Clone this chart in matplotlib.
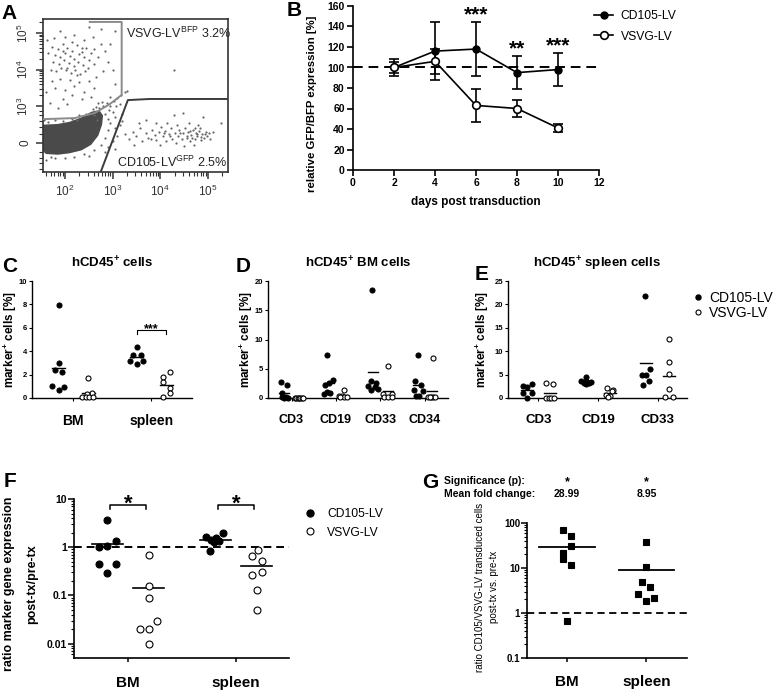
import matplotlib.pyplot as plt
from matplotlib.lines import Line2D
import numpy as np

plt.rcParams['font.family'] = ['Liberation Sans', 'DejaVu Sans']
plt.rcParams['mathtext.fontset'] = 'custom'
plt.rcParams['mathtext.rm'] = 'Liberation Sans'
plt.rcParams['mathtext.bf'] = 'Liberation Sans:bold'
plt.rcParams['mathtext.it'] = 'Liberation Sans:italic'

## ---------------- DATA ----------------
# A: flow cytometry events, axes in decades (2 = 0 on the y axis, 3 = 10^3 ...)
bfp_events = [(1.72,4.62),(1.85,4.55),(1.95,4.70),(2.05,4.60),(2.15,4.52),(2.25,4.66),(2.35,4.48),
              (1.80,4.40),(1.90,4.35),(2.00,4.45),(2.10,4.38),(2.20,4.30),(2.30,4.42),(2.40,4.34),
              (2.50,4.25),(1.75,4.20),(1.88,4.15),(1.98,4.25),(2.08,4.18),(2.18,4.10),(2.28,4.22),
              (2.38,4.12),(2.48,4.05),(1.70,4.00),(1.82,3.95),(1.92,4.05),(2.02,3.98),(2.12,3.90),
              (2.22,4.00),(2.32,3.88),(2.42,3.95),(2.60,4.15),(2.55,4.45),(2.45,4.60),(2.62,4.55),
              (2.70,4.35),(1.65,4.45),(1.62,4.80),(1.78,4.85),(2.00,4.90),(2.20,4.95),(2.40,4.80),
              (2.58,4.88),(2.75,4.70),(2.85,4.50),(2.90,4.20),(2.80,3.95),(2.65,3.80),(2.50,3.70),
              (2.30,3.65),(2.10,3.72),(1.90,3.75),(1.72,3.70),(1.80,3.50),(2.00,3.45),(2.20,3.55),
              (2.40,3.40),(2.60,3.50),(2.15,3.30),(1.95,3.20),(2.35,3.20),(2.55,3.25),(1.68,3.10),
              (1.85,2.95),(2.05,3.05),(2.70,3.10),(2.95,3.25),(3.05,3.60),(3.00,4.00),(2.95,4.70),
              (3.05,5.05),(2.75,5.10),(1.90,5.05),(2.50,5.15),(1.60,3.40),(2.25,3.85),(2.05,4.05),
              (1.95,4.50),(2.15,4.75),(2.35,4.58),(4.29,3.99)]
gfp_events = [(3.25,2.25),(3.35,2.10),(3.42,2.30),(3.50,2.18),(3.58,2.40),(3.62,2.05),(3.70,2.28),
              (3.75,2.15),(3.82,2.35),(3.88,2.22),(3.92,2.08),(3.98,2.30),(4.02,2.45),(4.05,2.18),
              (4.10,2.32),(4.12,2.05),(4.18,2.25),(4.22,2.40),(4.25,2.12),(4.30,2.28),(4.32,2.00),
              (4.38,2.20),(4.40,2.35),(4.45,2.10),(4.48,2.26),(4.52,2.42),(4.55,2.15),(4.58,2.30),
              (4.62,2.05),(4.65,2.22),(4.68,2.36),(4.72,2.12),(4.75,2.28),(4.78,2.18),(4.82,2.32),
              (4.85,2.08),(4.88,2.24),(4.92,2.14),(4.95,2.30),(4.98,2.20),(5.02,2.26),(5.05,2.12),
              (4.35,2.50),(4.60,2.55),(4.80,2.48),(4.15,2.55),(3.90,2.55),(3.55,2.55),(4.47,2.82),
              (4.90,2.70),(5.27,2.55),(4.28,2.75),(3.70,2.62),(4.00,1.95),(4.50,1.92),(4.70,1.95),
              (3.45,1.95),(4.20,2.18),(4.42,2.28),(4.56,2.20),(4.66,2.14),(4.76,2.24),(4.86,2.16),
              (4.94,2.24),(4.08,2.26),(3.80,2.12),(4.62,2.34),(4.72,2.40),(4.84,2.40),(5.10,2.30)]
neg_events = [(1.60,1.55),(1.80,1.58),(2.00,1.60),(2.20,1.62),(2.40,1.70),(2.60,1.80),(2.75,1.95),
              (2.85,2.15),(2.90,2.35),(2.95,2.55),(3.05,2.40),(3.10,2.20),(3.00,2.05),(2.90,1.90),
              (1.65,2.58),(1.80,2.62),(1.95,2.60),(2.15,2.66),(2.30,2.75),(2.45,2.80),(2.58,2.92),
              (1.70,1.62),(2.50,1.65),(3.15,2.50),(3.20,2.80),(3.05,1.85),(2.85,1.75),(1.56,2.62),
              (2.25,2.62),(2.68,2.62),(2.72,2.95),(2.80,3.02),(2.88,3.10),(2.95,3.00),(3.02,3.15),
              (3.10,3.22),(3.18,3.30),(3.25,3.38),(2.85,2.80),(2.92,2.90),(3.00,2.85),(3.08,3.00),
              (2.65,2.98),(2.78,3.12),(3.15,3.05),(3.30,3.42),(2.60,2.75),(2.90,2.65),(3.05,2.70),
              (3.20,2.60)]
neg_core = [(1.54,1.78),(1.60,1.70),(1.85,1.68),(2.10,1.72),(2.35,1.80),(2.55,1.95),(2.70,2.20),
            (2.78,2.50),(2.80,2.75),(2.72,2.90),(2.55,2.85),(2.35,2.70),(2.10,2.58),(1.85,2.52),
            (1.54,2.50)]
gate_bfp = [(1.54,2.65),(2.21,2.68),(2.63,2.82),(2.94,3.06),(3.19,3.31),(3.19,5.30),(2.52,5.30)]
gate_gfp = [(2.75,1.21),(3.32,3.17),(3.78,3.20),(5.42,3.20)]

# B: relative expression over time
days = [2, 4, 6, 8, 10]
cd105_mean = [100, 116, 118, 95, 98]
cd105_sd = [8, 28, 26, 16, 16]
vsvg_mean = [100, 106, 63, 60, 41]
vsvg_sd = [5, 12, 16, 8, 4]
sig_days = [6, 8, 10]
sig_marks = ['***', '**', '***']

# C: hCD45+ cells
c_groups = ['BM', 'spleen']
c_cd105 = [[7.95, 2.98, 2.41, 2.24, 0.99, 0.97, 0.65], [4.4, 3.7, 3.7, 3.2, 3.2, 2.9]]
c_vsvg = [[1.7, 0.42, 0.35, 0.08, 0.05, 0.05, 0.08], [2.2, 1.76, 1.34, 0.85, 0.43, 0.11]]

# D: hCD45+ BM cells
d_groups = ['CD3', 'CD19', 'CD33', 'CD34']
d_cd105 = [[2.8, 2.3, 0.85, 0.25, 0.1, 0.05, 0.0],
           [7.3, 3.0, 2.5, 2.2, 1.0, 0.8, 0.7],
           [18.4, 2.9, 2.6, 2.1, 1.8, 1.6, 1.3],
           [7.4, 2.95, 2.3, 1.4, 1.25, 0.3, 0.3]]
d_vsvg = [[0.0, 0.0, 0.0, 0.0, 0.0, 0.0, 0.0],
          [1.4, 0.4, 0.3, 0.2, 0.2, 0.1],
          [5.4, 0.7, 0.7, 0.1, 0.1, 0.1],
          [6.8, 0.2, 0.1, 0.1, 0.1, 0.1]]

# E: hCD45+ spleen cells
e_groups = ['CD3', 'CD19', 'CD33']
e_cd105 = [[2.5, 2.3, 3.0, 1.1, 1.1, 0.0], [4.4, 3.6, 3.55, 3.5, 3.3, 3.2, 2.9], [21.9, 6.2, 5.0, 5.0, 3.7, 2.8]]
e_vsvg = [[3.3, 3.0, 0.05, 0.0, 0.05, 0.0], [2.1, 1.8, 1.4, 0.7, 0.5, 0.2], [12.6, 7.6, 5.1, 1.9, 0.3, 0.3]]

# F: ratio marker gene expression
f_groups = ['BM', 'spleen']
f_cd105 = [[3.6, 1.35, 1.05, 1.0, 0.45, 0.44, 0.29], [1.95, 1.66, 1.53, 1.42, 1.35, 1.31, 0.82]]
f_vsvg = [[0.68, 0.16, 0.088, 0.029, 0.02, 0.02, 0.01], [0.88, 0.66, 0.52, 0.31, 0.26, 0.127, 0.049]]

# G: ratio CD105/VSVG transduced cells
g_groups = ['BM', 'spleen']
g_ratio = [[70.5, 51.6, 30.8, 21.8, 15.5, 11.6, 0.66], [36.9, 10.3, 4.93, 3.81, 2.61, 2.13, 1.85]]
g_sig = ['*', '*']
g_fold = ['28.99', '8.95']

## jitter of the dots inside each column (layout only, in "slots")
c_cd105_dx = [[0, 0, -11, 11, -19, 17, 0], [0, -10, 12, -21, 20, 0]]
c_vsvg_dx = [[0, 10, -5, -18, -8, 2, 15], [11, -11, -11, 11, 11, -11]]
d_cd105_dx = [[-10, 7, -6, 4, -8, 10, 0], [-5, 13, 0, -10, -5, 5, -13], [-2, -7, 10, -15, 5, 15, -5], [0, -7, 11, -12, 15, -5, 5]]
d_vsvg_dx = [[-12, -8, -4, 0, 4, 8, 12], [2, -13, -5, 3, 10, -9], [0, -13, 12, -11, 0, 12], [2, -12, -5, 2, 9, -8]]
e_cd105_dx = [[-12, 2, 15, -10, 15, 0], [0, -15, 0, 15, -8, 8, 0], [-2, 12, -12, 0, 10, -10]]
e_vsvg_dx = [[-12, 10, -12, -4, 4, 12], [-9, 11, 8, -12, 1, -5], [0, 0, 0, 0, -12, 11]]
f_cd105_dx = [[0, 26, 0, -25, -25, 26, 0], [22, -28, 0, -15, 10, -5, -18]]
f_vsvg_dx = [[0, 0, 0, 25, -25, 0, 0], [3, -15, 15, 15, -15, 0, 0]]
g_dx = [[-12, 12, 12, -12, -12, 12, 0], [0, 0, -12, 12, -24, 24, 0]]

## ---------------- FIGURE ----------------
W, H = 777, 692
fig = plt.figure(figsize=(W / 100, H / 100), dpi=100)


def px_axes(l, t, r, b):
    return fig.add_axes([l / W, 1 - b / H, (r - l) / W, (b - t) / H])


def px_text(x, y, s, **kw):
    return fig.text(x / W, 1 - y / H, s, **kw)


def column(ax, x0, vals, dx, step, filled, ms, half, lw=1.0, marker='o'):
    xs = [x0 + d * step for d in dx]
    ax.plot(xs, vals, marker, ls='none', ms=ms, mfc='k' if filled else 'white',
            mec='k', mew=0.8, zorder=3, clip_on=False)
    m = np.mean(vals)
    ax.plot([x0 - half, x0 + half], [m, m], color='k', lw=lw, zorder=2)


def simple_spines(ax, lw=1.0):
    for s in ['top', 'right']:
        ax.spines[s].set_visible(False)
    for s in ['left', 'bottom']:
        ax.spines[s].set_linewidth(lw)


## ---- A ----
axA = px_axes(43, 19, 228, 172)
axA.fill([p[0] for p in neg_core], [p[1] for p in neg_core], color='#4a4a4a', lw=0, zorder=1)
for ev in [bfp_events, gfp_events, neg_events]:
    axA.scatter([p[0] for p in ev], [p[1] for p in ev], s=2.5, color='#666666', lw=0, zorder=2)
axA.plot([p[0] for p in gate_bfp], [p[1] for p in gate_bfp], color='#8a8a8a', lw=1.4, zorder=3)
axA.plot([p[0] for p in gate_gfp], [p[1] for p in gate_gfp], color='#3c3c3c', lw=1.4, zorder=3)
axA.set_xlim(1.54, 5.42)
axA.set_ylim(1.21, 5.38)
axA.set_xticks([2, 3, 4, 5], ['$10^2$', '$10^3$', '$10^4$', '$10^5$'], fontsize=8.5, color='#333333')
axA.set_yticks([2, 3, 4, 5], ['0', '$10^3$', '$10^4$', '$10^5$'], fontsize=8.5, color='#333333', rotation=90, va='center')
axA.set_xticks([d + np.log10(k) for d in range(1, 6) for k in range(2, 10) if 1.54 < d + np.log10(k) < 5.42], minor=True)
axA.set_yticks([d + np.log10(k) for d in range(3, 6) for k in range(2, 10) if d + np.log10(k) < 5.38] +
               [1.3, 1.45, 1.6, 1.75, 2.25, 2.45, 2.6, 2.75, 2.88], minor=True)
axA.tick_params(which='major', length=5, width=1.1, color='#333333')
axA.tick_params(which='minor', length=3, width=0.8, color='#333333')
for s in axA.spines.values():
    s.set_linewidth(1.2)
    s.set_color('#333333')
axA.text(0.45, 0.905, r'VSVG-LV$^{\mathrm{BFP}}$ 3.2%', transform=axA.transAxes, fontsize=9, va='center', color='#222222')
axA.text(0.40, 0.062, r'CD105-LV$^{\mathrm{GFP}}$ 2.5%', transform=axA.transAxes, fontsize=9, va='center', color='#222222')

## ---- B ----
axB = px_axes(353, 6, 599, 170)
axB.axhline(100, color='k', ls=(0, (5, 3)), lw=1.4, zorder=1)
axB.errorbar(days, cd105_mean, yerr=cd105_sd, color='k', marker='o', ms=5, mfc='k', mec='k',
             capsize=3.5, lw=1.2, elinewidth=1.2, capthick=1.2, zorder=3)
axB.errorbar(days, vsvg_mean, yerr=vsvg_sd, color='k', marker='o', ms=5.5, mfc='white', mec='k', mew=1.2,
             capsize=3.5, lw=1.2, elinewidth=1.2, capthick=1.2, zorder=4)
for d, s in zip(sig_days, sig_marks):
    top = cd105_mean[days.index(d)] + cd105_sd[days.index(d)]
    axB.text(d, top + 2, s, ha='center', va='baseline', fontsize=15, fontweight='bold')
axB.set_xlim(0, 12)
axB.set_ylim(0, 160)
axB.set_xticks(range(0, 13, 2), [str(v) for v in range(0, 13, 2)], fontsize=7.5, fontweight='bold')
axB.set_yticks(range(0, 161, 20), [str(v) for v in range(0, 161, 20)], fontsize=7.5, fontweight='bold')
axB.tick_params(length=4, width=1.2, pad=2)
simple_spines(axB, 1.2)
px_text(312, 104, 'relative GFP/BFP expression [%]', rotation=90, ha='center', va='center', fontsize=8.2, fontweight='bold')
px_text(476, 202, 'days post transduction', ha='center', va='center', fontsize=8.5, fontweight='bold')
hB = [Line2D([], [], color='k', marker='o', ms=5, mfc='k', lw=1.2),
      Line2D([], [], color='k', marker='o', ms=5.5, mfc='white', mew=1.2, lw=1.2)]
fig.legend(hB, ['CD105-LV', 'VSVG-LV'], loc='upper left', bbox_to_anchor=(588 / W, 1 - 4 / H),
           frameon=False, fontsize=8.7, handlelength=1.6, handletextpad=0.6, labelspacing=0.7, borderpad=0)

## ---- C ----
axC = px_axes(32, 281, 192, 398)
for i in range(len(c_groups)):
    column(axC, i - 0.19, c_cd105[i], c_cd105_dx[i], 0.00426, True, 3.6, 0.085)
    column(axC, i + 0.19, c_vsvg[i], c_vsvg_dx[i], 0.00426, False, 3.6, 0.085)
axC.plot([0.81, 0.81, 1.19, 1.19], [5.5, 5.82, 5.82, 5.5], color='k', lw=0.8)
axC.text(1.0, 5.65, '***', ha='center', va='baseline', fontsize=9, fontweight='bold')
axC.set_xlim(-0.53, 1.52)
axC.set_ylim(0, 10)
axC.set_yticks(range(0, 11, 2), [str(v) for v in range(0, 11, 2)], fontsize=5.5, fontweight='bold')
axC.set_xticks([0, 1], c_groups, fontsize=10, fontweight='bold')
axC.tick_params(axis='y', length=2.5, width=0.8, pad=1)
axC.tick_params(axis='x', length=2.5, width=0.8, pad=9)
simple_spines(axC)
axC.set_title(r'hCD45$^{\mathbf{+}}$ cells', fontsize=9.5, fontweight='bold', pad=10)

## ---- D ----
axD = px_axes(268, 281, 448, 398)
for i in range(len(d_groups)):
    column(axD, i - 0.165, d_cd105[i], d_cd105_dx[i], 0.0075, True, 3.6, 0.11)
    column(axD, i + 0.165, d_vsvg[i], d_vsvg_dx[i], 0.0075, False, 3.6, 0.11)
axD.set_xlim(-0.53, 3.52)
axD.set_ylim(0, 20)
axD.set_yticks(range(0, 21, 5), [str(v) for v in range(0, 21, 5)], fontsize=5.5, fontweight='bold')
axD.set_xticks(range(len(d_groups)), d_groups, fontsize=9, fontweight='bold')
axD.tick_params(axis='y', length=2.5, width=0.8, pad=1)
axD.tick_params(axis='x', length=2.5, width=0.8, pad=9)
simple_spines(axD)
axD.set_title(r'hCD45$^{\mathbf{+}}$ BM cells', fontsize=9.5, fontweight='bold', pad=10)

## ---- E ----
axE = px_axes(508, 281, 687, 398)
for i in range(len(e_groups)):
    column(axE, i - 0.195, e_cd105[i], e_cd105_dx[i], 0.0056, True, 3.6, 0.1)
    column(axE, i + 0.195, e_vsvg[i], e_vsvg_dx[i], 0.0056, False, 3.6, 0.1)
axE.set_xlim(-0.51, 2.49)
axE.set_ylim(0, 25)
axE.set_yticks(range(0, 26, 5), [str(v) for v in range(0, 26, 5)], fontsize=5.5, fontweight='bold')
axE.set_xticks(range(len(e_groups)), e_groups, fontsize=9.5, fontweight='bold')
axE.tick_params(axis='y', length=2.5, width=0.8, pad=1)
axE.tick_params(axis='x', length=2.5, width=0.8, pad=9)
simple_spines(axE)
axE.set_title(r'hCD45$^{\mathbf{+}}$ spleen cells', fontsize=9.5, fontweight='bold', pad=10)
hE = [Line2D([], [], ls='none', marker='o', ms=3.6, mfc='k', mec='k'),
      Line2D([], [], ls='none', marker='o', ms=3.6, mfc='white', mec='k', mew=0.8)]
fig.legend(hE, ['CD105-LV', 'VSVG-LV'], loc='upper left', bbox_to_anchor=(685 / W, 1 - 284 / H),
           frameon=False, fontsize=10, handlelength=0.8, handletextpad=0.45, labelspacing=0.1, borderpad=0)

for x, t in [(10, 'C'), (246, 'D'), (482, 'E')]:
    px_text(x, 340, r'marker$^{\mathbf{+}}$ cells [%]', rotation=90, ha='center', va='center', fontsize=8.5, fontweight='bold')

## ---- F ----
axF = px_axes(74, 499, 289, 658)
axF.set_yscale('log')
axF.axhline(1, color='k', ls=(0, (4, 2.5)), lw=1.4, zorder=1)
for i in range(len(f_groups)):
    column(axF, i - 0.19, f_cd105[i], f_cd105_dx[i], 0.00309, True, 5, 0.14, lw=1.2)
    column(axF, i + 0.19, f_vsvg[i], f_vsvg_dx[i], 0.00309, False, 5, 0.14, lw=1.2)
    axF.plot([i - 0.17, i - 0.17, i + 0.17, i + 0.17], [6.1, 7.5, 7.5, 6.1], color='k', lw=1.1, clip_on=False)
    axF.text(i, 6.0, '*', ha='center', va='baseline', fontsize=16, fontweight='bold')
axF.set_xlim(-0.5, 1.49)
axF.set_ylim(0.00505, 10)
axF.set_yticks([0.01, 0.1, 1, 10], ['0.01', '0.1', '1', '10'], fontsize=7.5, fontweight='bold')
axF.set_xticks([0, 1], f_groups, fontsize=11, fontweight='bold')
axF.tick_params(axis='y', which='major', length=4, width=1.1, pad=1)
axF.tick_params(axis='y', which='minor', length=2, width=0.8)
axF.tick_params(axis='x', length=3, width=1.1, pad=10)
simple_spines(axF, 1.2)
px_text(9, 584, 'ratio marker gene expression', rotation=90, ha='center', va='center', fontsize=9, fontweight='bold')
px_text(32, 584, 'post-tx/pre-tx', rotation=90, ha='center', va='center', fontsize=9, fontweight='bold')
hF = [Line2D([], [], ls='none', marker='o', ms=5, mfc='k', mec='k'),
      Line2D([], [], ls='none', marker='o', ms=5, mfc='white', mec='k', mew=0.8)]
fig.legend(hF, ['CD105-LV', 'VSVG-LV'], loc='upper left', bbox_to_anchor=(298 / W, 1 - 502 / H),
           frameon=False, fontsize=8.7, handlelength=1.0, handletextpad=0.9, labelspacing=0.55, borderpad=0)

## ---- G ----
axG = px_axes(527, 523, 687, 658)
axG.set_yscale('log')
axG.axhline(1, color='k', ls=(0, (4, 2.5)), lw=1.3, zorder=1)
for i in range(len(g_groups)):
    column(axG, i, g_ratio[i], g_dx[i], 0.0042, True, 4, 0.35, lw=1.3, marker='s')
axG.set_xlim(-0.5, 1.51)
axG.set_ylim(0.1, 100)
axG.set_yticks([0.1, 1, 10, 100], ['0.1', '1', '10', '100'], fontsize=7, fontweight='bold')
axG.set_xticks([0, 1], g_groups, fontsize=11, fontweight='bold')
axG.tick_params(axis='y', which='major', length=4, width=1.1, pad=1)
axG.tick_params(axis='y', which='minor', length=2, width=0.8)
axG.tick_params(axis='x', length=3, width=1.1, pad=9)
simple_spines(axG, 1.2)
px_text(480, 587, 'ratio CD105/VSVG-LV transduced cells', rotation=90, ha='center', va='center', fontsize=7)
px_text(494, 587, 'post-tx vs. pre-tx', rotation=90, ha='center', va='center', fontsize=7)
px_text(444, 481, 'Significance (p):', ha='left', va='center', fontsize=7.5, fontweight='bold')
px_text(444, 494, 'Mean fold change:', ha='left', va='center', fontsize=7.5, fontweight='bold')
for i in range(len(g_groups)):
    xc = 567 + i * 79.5
    px_text(xc, 482, g_sig[i], ha='center', va='center', fontsize=9, fontweight='bold')
    px_text(xc, 494, g_fold[i], ha='center', va='center', fontsize=7.5, fontweight='bold')

## ---- panel letters ----
for lab, x, y in [('A', 1, 4), ('B', 287, 1), ('C', 2, 257), ('D', 236, 257), ('E', 475, 265), ('F', 4, 472), ('G', 422, 473)]:
    px_text(x, y, lab, fontsize=15, fontweight='bold', va='top', ha='left')

fig.savefig('out.png', dpi=100)
